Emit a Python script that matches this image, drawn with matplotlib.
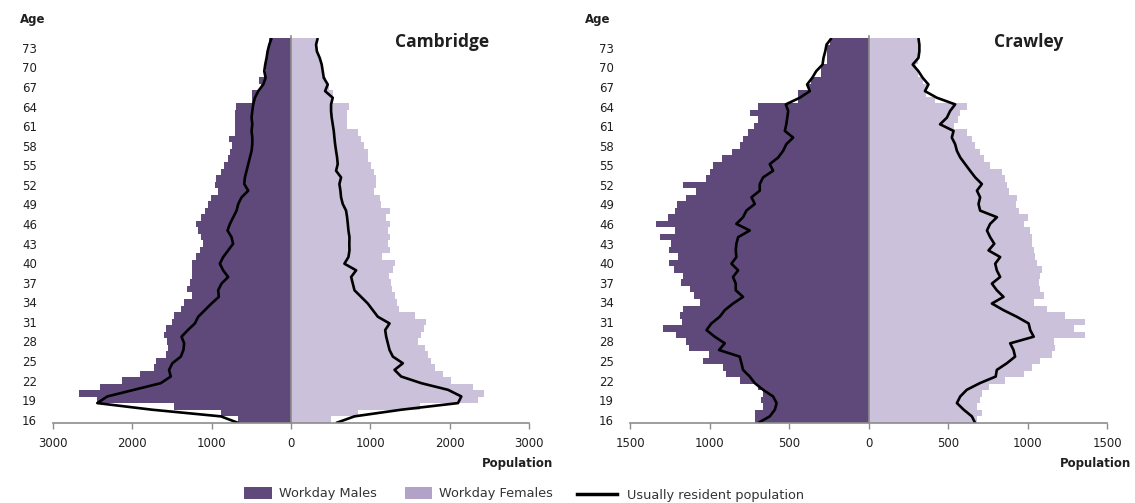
import matplotlib
matplotlib.use("Agg")
import matplotlib.pyplot as plt
from matplotlib.patches import Patch
from matplotlib.lines import Line2D

ages = list(range(16, 75))
age_ticks = list(range(16, 74, 3))

# workday / usually resident population by single year of age (16..74)
cam_male_work = [673, 884, 1474, 2442, 2674, 2412, 2126, 1903, 1726, 1705,
                 1579, 1545, 1558, 1600, 1579, 1495, 1474, 1389, 1355, 1242,
                 1313, 1276, 1242, 1254, 1254, 1200, 1150, 1110, 1130, 1175,
                 1200, 1137, 1086, 1052, 1010, 926, 956, 947, 884, 842,
                 800, 770, 745, 779, 700, 700, 700, 700, 695, 493,
                 493, 380, 408, 340, 316, 310, 295, 285, 275]
cam_female_work = [500, 850, 1621, 2358, 2434, 2295, 2013, 1916, 1810, 1768,
                   1726, 1684, 1600, 1642, 1671, 1705, 1558, 1360, 1335, 1305,
                   1276, 1255, 1234, 1284, 1305, 1145, 1242, 1221, 1242, 1221,
                   1242, 1200, 1242, 1137, 1116, 1052, 1074, 1074, 1052, 1010,
                   968, 968, 926, 884, 842, 707, 707, 707, 737, 510,
                   526, 484, 442, 390, 380, 360, 340, 330, 320]
cam_male_res = [663, 884, 1750, 2442, 2316, 1979, 1642, 1516, 1537, 1495,
                1389, 1356, 1347, 1380, 1300, 1212, 1170, 1086, 1002, 910,
                918, 876, 792, 855, 897, 855, 792, 730, 750, 800,
                770, 728, 686, 665, 623, 539, 589, 581, 560, 539,
                518, 497, 488, 488, 497, 488, 497, 488, 476, 455,
                413, 350, 320, 337, 325, 308, 295, 274, 244]
cam_female_res = [568, 800, 1389, 2105, 2147, 1979, 1642, 1389, 1305, 1410,
                  1284, 1242, 1221, 1200, 1187, 1242, 1095, 1031, 968, 884,
                  800, 779, 758, 821, 673, 724, 737, 735, 737, 724,
                  716, 707, 694, 652, 631, 623, 610, 631, 568, 589,
                  581, 568, 556, 547, 539, 526, 513, 505, 505, 526,
                  430, 463, 413, 400, 387, 362, 326, 316, 337]

cra_male_work = [715, 715, 663, 679, 663, 694, 810, 894, 915, 1041,
                 1003, 1131, 1145, 1213, 1292, 1175, 1183, 1167, 1061, 1100,
                 1125, 1181, 1167, 1223, 1255, 1198, 1255, 1240, 1314, 1219,
                 1334, 1261, 1219, 1204, 1145, 1087, 1167, 1024, 1000, 978,
                 919, 858, 810, 789, 757, 719, 698, 747, 698, 446,
                 446, 380, 360, 301, 301, 264, 264, 264, 243]
cra_female_work = [682, 713, 682, 702, 713, 755, 860, 976, 1029, 1081,
                   1154, 1175, 1165, 1364, 1290, 1364, 1238, 1122, 1039, 1102,
                   1080, 1071, 1081, 1091, 1060, 1049, 1039, 1028, 1029, 1017,
                   976, 1006, 948, 929, 933, 881, 870, 860, 839, 765,
                   724, 702, 671, 650, 618, 535, 566, 577, 618, 420,
                   360, 370, 340, 314, 300, 314, 320, 320, 310]
cra_male_res = [694, 621, 589, 578, 600, 663, 715, 747, 789, 799,
                810, 940, 904, 967, 1019, 988, 936, 904, 852, 789,
                835, 835, 852, 820, 862, 831, 835, 831, 820, 747,
                831, 789, 768, 715, 736, 684, 684, 663, 600, 621,
                568, 537, 517, 474, 526, 517, 511, 505, 520, 432,
                369, 386, 354, 329, 289, 283, 272, 264, 232]
cra_female_res = [671, 650, 599, 556, 577, 618, 700, 800, 807, 870,
                  922, 912, 891, 1039, 1017, 1007, 933, 849, 776, 849,
                  807, 776, 828, 807, 797, 828, 755, 791, 765, 745,
                  765, 808, 702, 692, 702, 682, 713, 671, 639, 608,
                  577, 556, 545, 524, 535, 450, 493, 513, 545, 430,
                  355, 377, 341, 314, 278, 314, 320, 320, 314]

male_color = '#5F497A'
female_color = '#CCC1DA'
legend_female = '#B3A2C7'
text_color = '#1F1F1F'


def draw_pyramid(ax, male_work, female_work, male_res, female_res, xmax, step, title, title_x, age_x):
	neg_male = [-v for v in male_work]
	ax.barh(ages, neg_male, height=1.0, color=male_color, linewidth=0)
	ax.barh(ages, female_work, height=1.0, color=female_color, linewidth=0)

	# resident line runs from the bottom of the first bar to the top of the last
	n = len(ages)
	line_y = [ages[0] - 0.5 + i * n / (n - 1) for i in range(n)]
	ax.plot([-v for v in male_res], line_y, color='black', lw=1.9, solid_capstyle='butt')
	ax.plot(female_res, line_y, color='black', lw=1.9, solid_capstyle='butt')

	ax.axvline(0, color='#8C8C8C', lw=1.2, ymax=1.005, clip_on=False)

	ax.set_xlim(-xmax, xmax)
	ax.set_ylim(ages[0] - 0.5, ages[-1] + 0.5)
	xt = list(range(-xmax, xmax + 1, step))
	ax.set_xticks(xt)
	ax.set_xticklabels([str(abs(v)) for v in xt], fontsize=8.5, color=text_color)
	ax.set_yticks(age_ticks)
	ax.set_yticklabels([str(a) for a in age_ticks], fontsize=8.5, color=text_color)
	ax.tick_params(axis='y', length=0, pad=11.5)
	ax.tick_params(axis='x', length=4, width=1, color='#8C8C8C', direction='out', pad=6)

	for side in ['left', 'right', 'top']:
		ax.spines[side].set_visible(False)
	ax.spines['bottom'].set_color('#8C8C8C')
	ax.spines['bottom'].set_linewidth(1.2)

	ax.text(title_x, 0.99, title, transform=ax.transAxes, fontsize=12.5,
			fontweight='bold', family='Open Sans', color=text_color, va='center', ha='center')
	ax.text(age_x, 1.047, 'Age', transform=ax.transAxes, fontsize=8.5,
			fontweight='bold', color=text_color, va='center', ha='left')
	ax.text(1.05, -0.105, 'Population', transform=ax.transAxes, fontsize=8.5,
			fontweight='bold', color=text_color, va='center', ha='right')


fig = plt.figure(figsize=(11.35, 5.03), dpi=100)
ax1 = fig.add_axes([53 / 1135, 80 / 503, 476 / 1135, 385 / 503])
ax2 = fig.add_axes([630 / 1135, 80 / 503, 477 / 1135, 385 / 503])

draw_pyramid(ax1, cam_male_work, cam_female_work, cam_male_res, cam_female_res,
			 3000, 1000, 'Cambridge', 0.817, -0.069)
draw_pyramid(ax2, cra_male_work, cra_female_work, cra_male_res, cra_female_res,
			 1500, 500, 'Crawley', 0.836, -0.094)

# legend entries placed one by one, like the separate boxes in the original
entries = [
	(Patch(facecolor=male_color, edgecolor='none'), 'Workday Males', 244, 493.5, 2.17, 0.55),
	(Patch(facecolor=legend_female, edgecolor='none'), 'Workday Females', 405, 493.5, 2.1, 0.5),
	(Line2D([0], [0], color='black', lw=2.5), 'Usually resident population', 577, 495, 3.1, 0.75),
]
for handle, label, xpix, ypix, hlen, tpad in entries:
	fig.legend([handle], [label], loc='center left', bbox_to_anchor=(xpix / 1135, 1 - ypix / 503),
			   frameon=False, fontsize=9.3, handlelength=hlen, handleheight=1.16,
			   handletextpad=tpad, borderpad=0, borderaxespad=0, labelcolor='#333333')

fig.savefig('out.png', dpi=100)
